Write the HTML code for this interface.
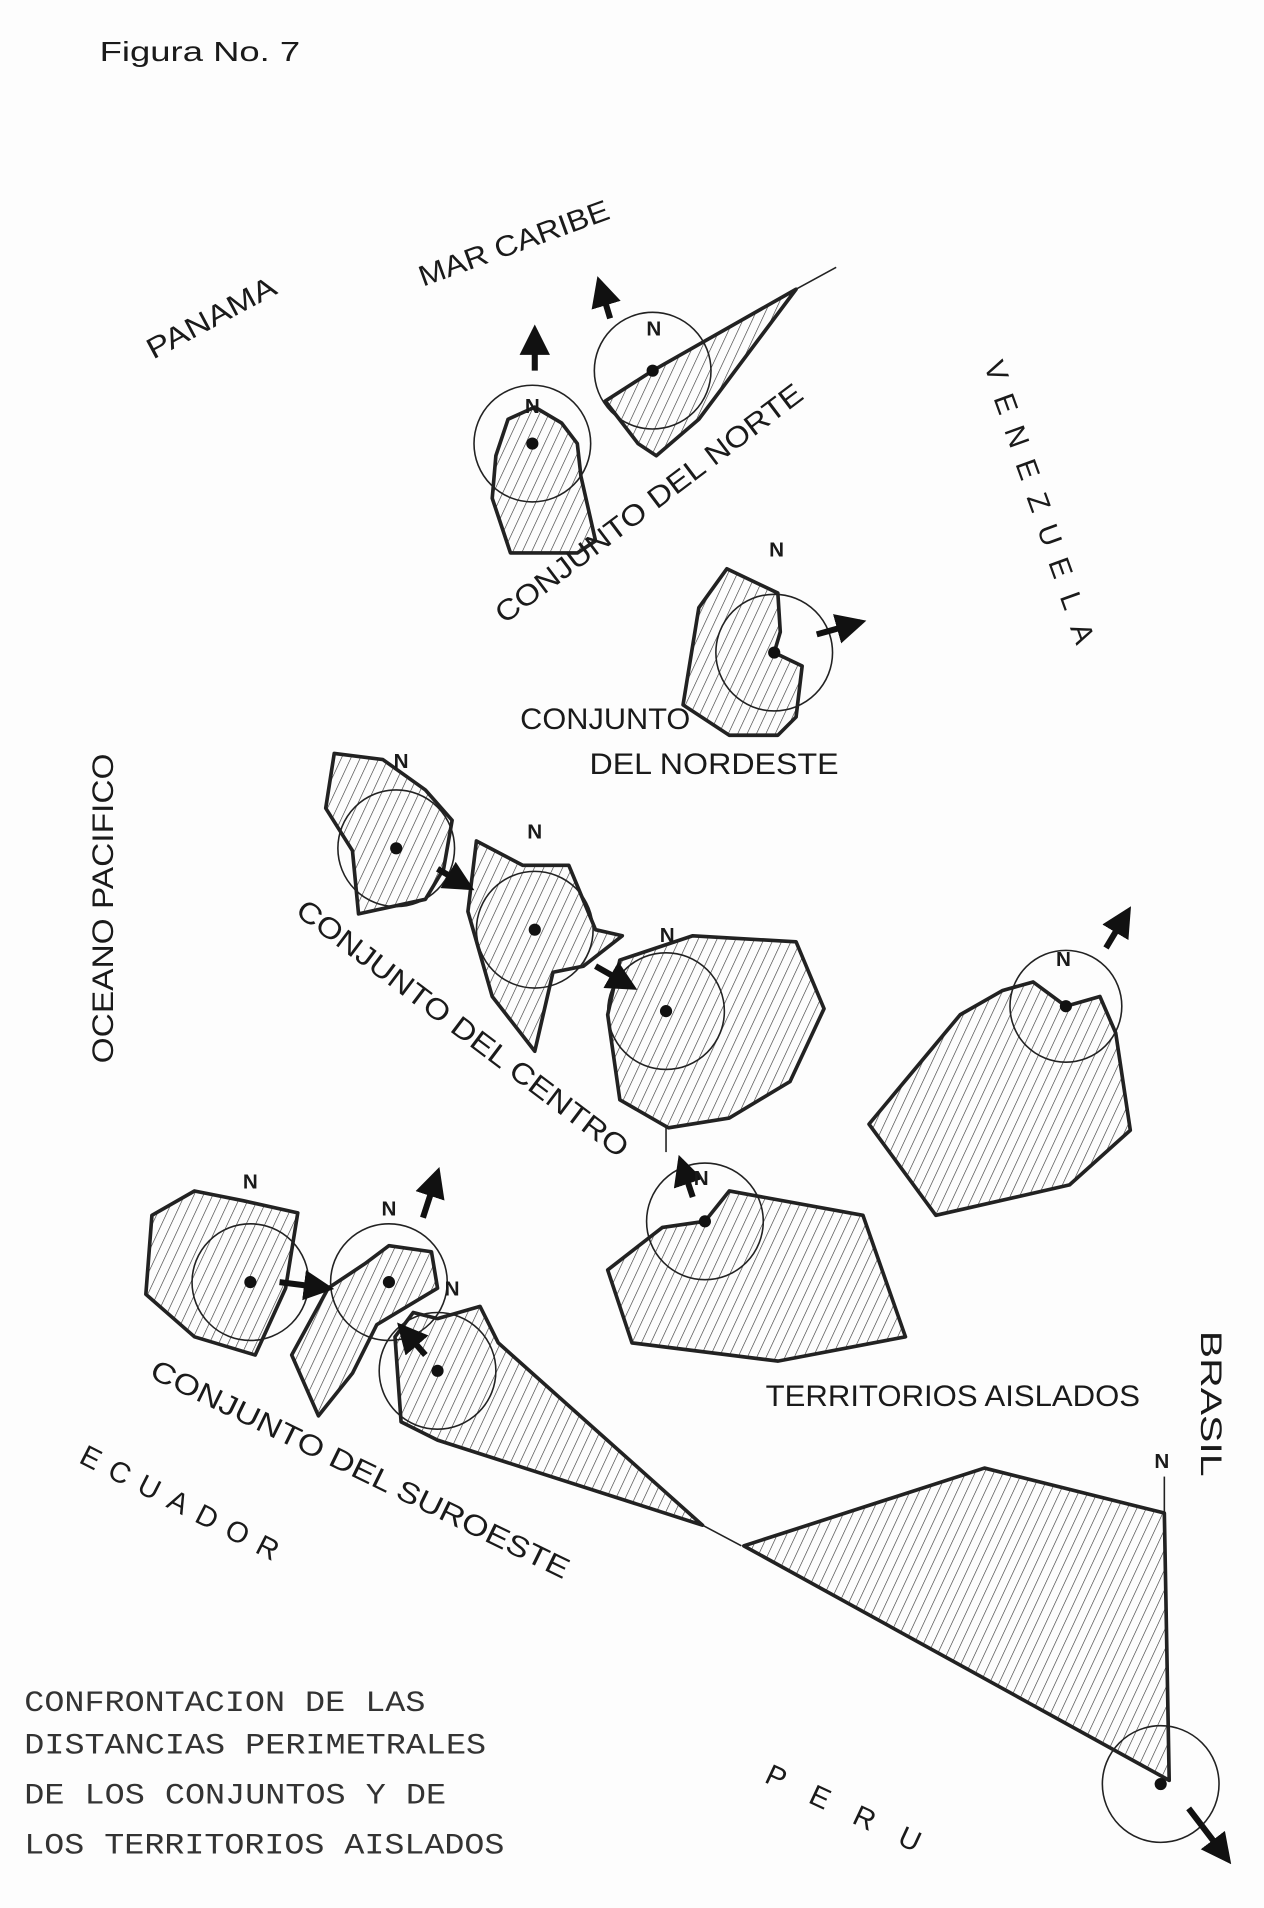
<!DOCTYPE html>
<html><head><meta charset="utf-8"><style>
html,body{margin:0;padding:0;background:#fdfdfd;}
svg{display:block;}
text{font-family:"Liberation Sans",sans-serif;fill:#1a1a1a;}
.lab{font-size:24px;}
.mono{font-family:"Liberation Mono",monospace;font-size:24px;fill:#333;}
</style></head><body>
<svg width="1264" height="1908" viewBox="0 0 1040 1570" preserveAspectRatio="none" xmlns="http://www.w3.org/2000/svg">
<defs>
<pattern id="h" width="7" height="7" patternUnits="userSpaceOnUse" patternTransform="rotate(25)">
<line x1="0" y1="0" x2="0" y2="7" stroke="#333" stroke-width="1"/>
</pattern>
<marker id="ar" viewBox="0 0 10 10" refX="8" refY="5" markerWidth="5" markerHeight="5" orient="auto"><path d="M0,0 L10,5 L0,10 z" fill="#111"/></marker>
</defs>
<rect width="1040" height="1570" fill="#fdfdfd"/>
<g fill="url(#h)" stroke="#222" stroke-width="3" stroke-linejoin="round">
<polygon points="408,375 418,345 440,335 462,348 475,365 478,392 490,445 475,455 420,455 405,410"/>
<polygon points="537,305 655,238 575,345 540,375 525,365 498,330"/>
<polygon points="598,468 640,488 642,520 637,537 660,548 655,590 640,605 600,605 562,580 575,500"/>
<polygon points="275,620 315,625 350,650 372,675 365,715 350,740 295,752 290,700 268,665"/>
<polygon points="392,692 430,712 468,712 490,765 512,770 480,795 455,800 440,865 405,820 385,750"/>
<polygon points="510,790 570,770 655,775 678,830 650,890 600,920 550,928 510,905 500,835"/>
<polygon points="825,815 850,808 877,828 905,820 918,850 930,930 880,975 770,1000 715,925 790,835"/>
<polygon points="500,1045 545,1010 580,1005 600,980 710,1000 745,1100 640,1120 520,1105"/>
<polygon points="125,1000 160,980 200,988 245,998 235,1060 210,1115 160,1100 120,1065"/>
<polygon points="240,1115 270,1060 300,1040 320,1025 355,1030 360,1060 310,1090 290,1130 262,1165"/>
<polygon points="330,1170 325,1100 340,1080 360,1085 395,1075 410,1105 578,1255 360,1185"/>
<polygon points="612,1272 810,1208 958,1245 962,1465"/>
</g>
<g fill="none" stroke="#222" stroke-width="1.3">
<circle cx="438" cy="365" r="48"/><circle cx="537" cy="305" r="48"/>
<circle cx="637" cy="537" r="48"/><circle cx="326" cy="698" r="48"/>
<circle cx="440" cy="765" r="48"/><circle cx="548" cy="832" r="48"/>
<circle cx="877" cy="828" r="46"/><circle cx="580" cy="1005" r="48"/>
<circle cx="206" cy="1055" r="48"/><circle cx="320" cy="1055" r="48"/>
<circle cx="360" cy="1128" r="48"/><circle cx="955" cy="1468" r="48"/>
<line x1="655" y1="238" x2="688" y2="220"/><line x1="578" y1="1255" x2="610" y2="1272"/>
<line x1="548" y1="928" x2="548" y2="948"/>
<line x1="958" y1="1215" x2="958" y2="1245"/>
</g>
<g fill="#111">
<circle cx="438" cy="365" r="5"/><circle cx="537" cy="305" r="5"/>
<circle cx="637" cy="537" r="5"/><circle cx="326" cy="698" r="5"/>
<circle cx="440" cy="765" r="5"/><circle cx="548" cy="832" r="5"/>
<circle cx="877" cy="828" r="5"/><circle cx="580" cy="1005" r="5"/>
<circle cx="206" cy="1055" r="5"/><circle cx="320" cy="1055" r="5"/>
<circle cx="360" cy="1128" r="5"/><circle cx="955" cy="1468" r="5"/>
</g>
<g stroke="#111" stroke-width="5" marker-end="url(#ar)">
<line x1="440" y1="305" x2="440" y2="272"/>
<line x1="502" y1="262" x2="493" y2="232"/>
<line x1="672" y1="522" x2="708" y2="512"/>
<line x1="360" y1="715" x2="386" y2="730"/>
<line x1="490" y1="795" x2="520" y2="812"/>
<line x1="910" y1="780" x2="928" y2="750"/>
<line x1="570" y1="985" x2="560" y2="955"/>
<line x1="230" y1="1055" x2="270" y2="1060"/>
<line x1="348" y1="1002" x2="360" y2="965"/>
<line x1="350" y1="1115" x2="330" y2="1092"/>
<line x1="978" y1="1488" x2="1010" y2="1530"/>
</g>
<g text-anchor="middle" font-weight="bold">
<text x="438" y="340" font-size="17">N</text><text x="538" y="276" font-size="17">N</text>
<text x="639" y="458" font-size="17">N</text><text x="330" y="632" font-size="17">N</text>
<text x="440" y="690" font-size="17">N</text><text x="549" y="775" font-size="17">N</text>
<text x="875" y="795" font-size="17">N</text><text x="577" y="975" font-size="17">N</text>
<text x="206" y="978" font-size="17">N</text><text x="320" y="1000" font-size="17">N</text>
<text x="372" y="1066" font-size="17">N</text><text x="956" y="1208" font-size="17">N</text>
</g>
<text x="82" y="50" font-size="23" textLength="165" lengthAdjust="spacingAndGlyphs">Figura No. 7</text>
<text class="lab" transform="translate(126,296) rotate(-28)" textLength="117" lengthAdjust="spacingAndGlyphs">PANAMA</text>
<text class="lab" transform="translate(348,236) rotate(-20)" textLength="165" lengthAdjust="spacingAndGlyphs">MAR CARIBE</text>
<g class="lab" text-anchor="middle">
<text transform="translate(812,308) rotate(70)">V</text>
<text transform="translate(820,335) rotate(70)">E</text>
<text transform="translate(829,362) rotate(70)">N</text>
<text transform="translate(838,389) rotate(70)">E</text>
<text transform="translate(847,416) rotate(70)">Z</text>
<text transform="translate(856,443) rotate(70)">U</text>
<text transform="translate(865,470) rotate(70)">E</text>
<text transform="translate(874,497) rotate(70)">L</text>
<text transform="translate(883,524) rotate(70)">A</text>
</g>
<text class="lab" transform="translate(93,875) rotate(-90)" textLength="255" lengthAdjust="spacingAndGlyphs">OCEANO PACIFICO</text>
<text class="lab" transform="translate(415,514) rotate(-37)" textLength="310" lengthAdjust="spacingAndGlyphs">CONJUNTO DEL NORTE</text>
<text class="lab" x="428" y="600" textLength="140" lengthAdjust="spacingAndGlyphs">CONJUNTO</text>
<text class="lab" x="485" y="637" textLength="205" lengthAdjust="spacingAndGlyphs">DEL NORDESTE</text>
<text class="lab" transform="translate(242,752) rotate(37)" textLength="335" lengthAdjust="spacingAndGlyphs">CONJUNTO DEL CENTRO</text>
<text class="lab" x="630" y="1157" textLength="308" lengthAdjust="spacingAndGlyphs">TERRITORIOS AISLADOS</text>
<text class="lab" transform="translate(988,1095) rotate(90)" textLength="120" lengthAdjust="spacingAndGlyphs">BRASIL</text>
<text class="lab" transform="translate(122,1133) rotate(26)" textLength="380" lengthAdjust="spacingAndGlyphs">CONJUNTO DEL SUROESTE</text>
<text class="lab" transform="translate(64,1203) rotate(27)" textLength="180" lengthAdjust="spacing">ECUADOR</text>
<text class="lab" transform="translate(628,1466) rotate(25)" textLength="138" lengthAdjust="spacing">PERU</text>
<text class="mono" x="20" y="1408" textLength="330" lengthAdjust="spacingAndGlyphs">CONFRONTACION DE LAS</text>
<text class="mono" x="20" y="1443" textLength="380" lengthAdjust="spacingAndGlyphs">DISTANCIAS PERIMETRALES</text>
<text class="mono" x="20" y="1484" textLength="347" lengthAdjust="spacingAndGlyphs">DE LOS CONJUNTOS Y DE</text>
<text class="mono" x="20" y="1525" textLength="395" lengthAdjust="spacingAndGlyphs">LOS TERRITORIOS AISLADOS</text>
</svg>
</body></html>
